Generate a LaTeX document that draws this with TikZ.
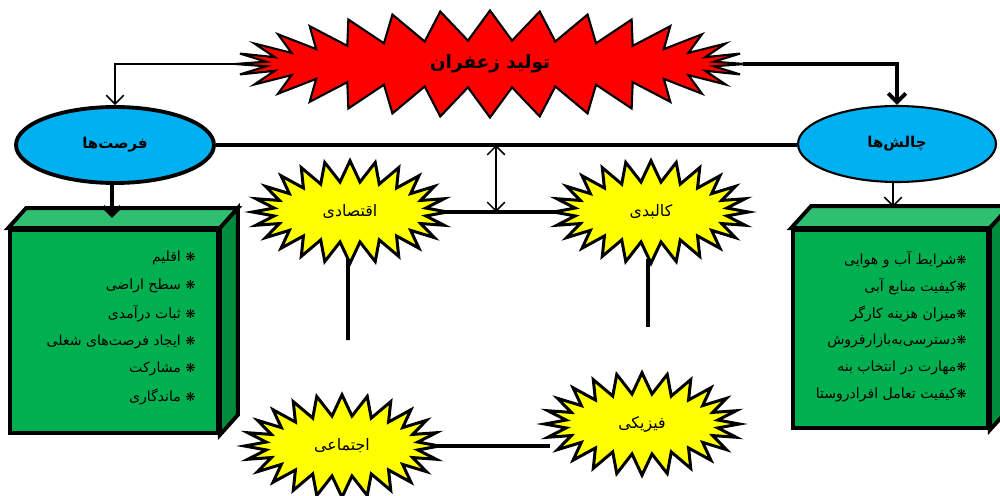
\documentclass[tikz,border=0pt]{standalone}
\usepackage{fontspec}
\usetikzlibrary{shapes.geometric,shapes.symbols,arrows.meta,calc}
\TeXXeTstate=1
\newfontfamily\arabicfont[Script=Arabic]{DejaVu Sans}
\definecolor{cyanfill}{HTML}{00B0F0}
\definecolor{frontgreen}{HTML}{00B050}
\definecolor{topgreen}{HTML}{2FBF71}
\definecolor{sidegreen}{HTML}{008C3A}
\definecolor{redfill}{HTML}{FF0000}
\definecolor{yellowfill}{HTML}{FFFF00}
\tikzset{
  burst/.style={starburst, random starburst=0, draw, inner sep=0pt, font=\arabicfont\fontsize{9}{11}\selectfont},
  redburst/.style={burst, fill=redfill, line width=1.2pt, starburst points=32, starburst point height=0.6cm,
    minimum width=10.2cm, minimum height=2.14cm, font=\arabicfont\bfseries\fontsize{10.5}{12}\selectfont},
  yburst/.style={burst, fill=yellowfill, line width=1.7pt, starburst points=24, starburst point height=0.42cm,
    minimum width=3.9cm, minimum height=2.05cm},
  oval/.style={ellipse, fill=cyanfill, draw, inner sep=0pt, minimum width=3.96cm, minimum height=1.52cm,
    font=\arabicfont\bfseries\fontsize{8.5}{10}\selectfont},
  frontbox/.style={rectangle, draw, fill=frontgreen, line width=2.2pt, inner sep=0pt},
  facebox/.style={draw, line width=2.2pt, line join=miter},
  thinline/.style={line width=0.9pt},
  thickline/.style={line width=2.2pt},
  thinarrow/.style={thinline, -{Straight Barb[length=5pt,width=10pt]}},
  thickarrow/.style={thickline, -{Straight Barb[length=5pt,width=10pt]}},
  item/.style={anchor=east, inner sep=0pt, font=\arabicfont\fontsize{8}{10}\selectfont},
}
\begin{document}
\begin{tikzpicture}[x=0.02cm,y=-0.02cm]
\useasboundingbox (0,0) rectangle (1000,496);

% boxes
\node[frontbox, minimum width=4.16cm, minimum height=4.06cm] (lbox) at (114,331.5) {};
\draw[facebox, fill=topgreen] (lbox.north west) -- ++(18,-20) -- ($(lbox.north east)+(18,-20)$) -- (lbox.north east) -- cycle;
\draw[facebox, fill=sidegreen] (lbox.north east) -- ++(18,-20) -- ($(lbox.south east)+(18,-20)$) -- (lbox.south east) -- cycle;

\node[frontbox, minimum width=3.9cm, minimum height=3.96cm] (rbox) at (890.5,329) {};
\draw[facebox, fill=topgreen] (rbox.north west) -- ++(20,-22) -- ($(rbox.north east)+(20,-22)$) -- (rbox.north east) -- cycle;
\draw[facebox, fill=sidegreen] (rbox.north east) -- ++(20,-22) -- ($(rbox.south east)+(20,-22)$) -- (rbox.south east) -- cycle;

% left box items
\foreach \t [count=\i] in {%
  {\beginR{\fontsize{7}{8}\selectfont ❋} اقلیم\endR},
  {\beginR{\fontsize{7}{8}\selectfont ❋} سطح اراضی\endR},
  {\beginR{\fontsize{7}{8}\selectfont ❋} ثبات درآمدی\endR},
  {\beginR{\fontsize{7}{8}\selectfont ❋} ایجاد فرصت‌های شغلی\endR},
  {\beginR{\fontsize{7}{8}\selectfont ❋} مشارکت\endR},
  {\beginR{\fontsize{7}{8}\selectfont ❋} ماندگاری\endR}}
  \node[item] (li\i) at (196,{258+27.8*(\i-1)}) {\t};

% right box items
\foreach \t [count=\i] in {%
  {\beginR{\fontsize{7}{8}\selectfont ❋}شرایط آب و هوایی\endR},
  {\beginR{\fontsize{7}{8}\selectfont ❋}کیفیت منابع آبی\endR},
  {\beginR{\fontsize{7}{8}\selectfont ❋}میزان هزینه کارگر\endR},
  {\beginR{\fontsize{7}{8}\selectfont ❋}دسترسی‌به‌بازارفروش\endR},
  {\beginR{\fontsize{7}{8}\selectfont ❋}مهارت در انتخاب بنه\endR},
  {\beginR{\fontsize{7}{8}\selectfont ❋}کیفیت تعامل افرادروستا\endR}}
  \node[item] (ri\i) at (967,{260+27*(\i-1)}) {\t};

% main nodes
\node[redburst] (red) at (490,64) {\beginR تولید زعفران\endR};
\node[oval, line width=2.2pt] (opp) at (115,145) {\beginR فرصت‌ها\endR};
\node[oval, line width=1.2pt] (chal) at (897,144) {\beginR چالش‌ها\endR};

\node[yburst] (eco) at (350,212) {\beginR اقتصادی\endR};
\node[yburst] (kal) at (651,212) {\beginR کالبدی\endR};
\node[yburst] (soc) at (342,446) {\beginR اجتماعی\endR};
\node[yburst] (phy) at (642,424) {\beginR فیزیکی\endR};

% connectors
\coordinate (redL) at ($(red.west)+(16,0)$);
\coordinate (redR) at ($(red.east)+(-16,0)$);
\draw[thinarrow] (redL) -| (opp.north);
\draw[thickarrow] (redR) -| (chal.north);
\draw[thickline] (opp.east) -- (opp.east -| chal.west);

\coordinate (da1) at (496,145);
\coordinate (da2) at (496,212);
\draw[thinline, {Straight Barb[length=5pt,width=10pt]}-{Straight Barb[length=5pt,width=10pt]}] (da1) -- (da2);

\coordinate (ecoE) at ($(eco.east)+(-14,0)$);
\coordinate (kalW) at ($(kal.west)+(14,0)$);
\draw[thickline] (ecoE) -- (kalW);
\coordinate (ecoS) at ($(eco.south)+(-2,-8)$);
\coordinate (ecoend) at (348,340);
\draw[thickline] (ecoS) -- (ecoend);
\coordinate (kalS) at ($(kal.south)+(-3,-8)$);
\coordinate (kalend) at (648,327);
\draw[thickline] (kalS) -- (kalend);
\coordinate (socE) at ($(soc.east)+(-14,0)$);
\coordinate (phyW) at ($(phy.west)+(14,0)$);
\draw[thickline] (socE) -- (socE -| phyW);

\coordinate (la) at (112,218);
\draw[thickarrow] (opp.south -| la) -- (la);
\coordinate (ra) at (893,207);
\draw[thinarrow] (chal.south -| ra) -- (ra);
\end{tikzpicture}
\end{document}
